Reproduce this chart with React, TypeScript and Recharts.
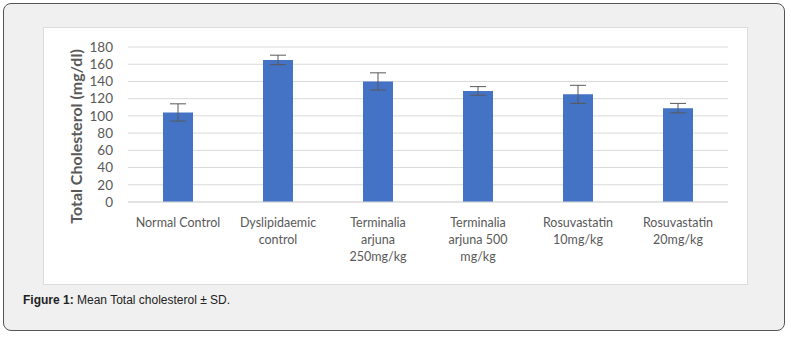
import { BarChart, Bar, XAxis, YAxis, CartesianGrid, ErrorBar } from "recharts";

const categories = [
  "Normal Control",
  "Dyslipidaemic\ncontrol",
  "Terminalia\narjuna\n250mg/kg",
  "Terminalia\narjuna 500\nmg/kg",
  "Rosuvastatin\n10mg/kg",
  "Rosuvastatin\n20mg/kg",
];
const meanValues = [104, 165, 140, 129, 125, 109];
const sdValues = [10, 5.5, 10, 5, 10.5, 5.5];
const yTicks = [0, 20, 40, 60, 80, 100, 120, 140, 160, 180];

const data = categories.map((name, i) => ({ name, mean: meanValues[i], sd: sdValues[i] }));

const FONT = "Lato, 'Open Sans', sans-serif";

// eslint-disable-next-line @typescript-eslint/no-explicit-any
function CategoryTick({ x, y, payload }: any) {
  const lines = String(payload.value).split("\n");
  return (
    <text x={x} y={y} textAnchor="middle" fill="#595959" fontSize={12.5} fontFamily={FONT}>
      {lines.map((line, i) => (
        <tspan key={i} x={x} dy={i === 0 ? 17 : 17}>
          {line}
        </tspan>
      ))}
    </text>
  );
}

export default function App() {
  return (
    <div style={{ position: "absolute", left: 0, top: 0, width: 791, height: 339, background: "#fff" }}>
      <div
        style={{
          position: "absolute",
          left: 3,
          top: 3,
          width: 780,
          height: 326,
          border: "1px solid #555",
          borderRadius: 8,
          background: "#f0f0f0",
        }}
      />
      <div
        style={{
          position: "absolute",
          left: 43,
          top: 27,
          width: 703,
          height: 256,
          background: "#fff",
          border: "1px solid #dcdcdc",
        }}
      >
        <BarChart width={703} height={256} data={data} margin={{ top: 19, right: 19, bottom: 0, left: 0 }}>
          <CartesianGrid vertical={false} stroke="#d9d9d9" />
          <XAxis
            dataKey="name"
            axisLine={{ stroke: "#d9d9d9" }}
            tickLine={false}
            height={82}
            interval={0}
            tick={<CategoryTick />}
          />
          <YAxis
            width={84}
            domain={[0, 180]}
            ticks={yTicks}
            interval={0}
            axisLine={false}
            tickLine={false}
            tickSize={8}
            tickMargin={7}
            tick={{ fill: "#595959", fontSize: 13.5, fontFamily: FONT }}
            label={{
              value: "Total Cholesterol (mg/dl)",
              angle: -90,
              position: "center",
              dx: -10,
              dy: 12,
              style: { fill: "#595959", fontSize: 16, fontWeight: 700, fontFamily: FONT },
            }}
          />
          <Bar dataKey="mean" fill="#4472C4" barSize={30} isAnimationActive={false}>
            <ErrorBar dataKey="sd" width={8} stroke="#595959" strokeWidth={1} isAnimationActive={false} />
          </Bar>
        </BarChart>
      </div>
      <div
        style={{
          position: "absolute",
          left: 23,
          top: 293,
          fontFamily: "'Liberation Sans', Arial, sans-serif",
          fontSize: 12,
          color: "#222",
        }}
      >
        <b>Figure 1:</b> Mean Total cholesterol ± SD.
      </div>
    </div>
  );
}
